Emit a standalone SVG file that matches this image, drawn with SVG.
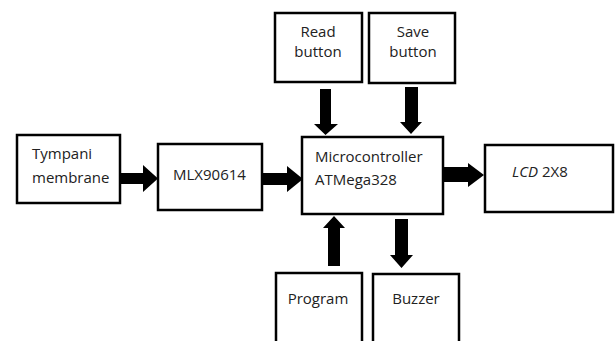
<svg xmlns="http://www.w3.org/2000/svg" width="616" height="341" viewBox="0 0 616 341">
<style>
.box{fill:#fff;stroke:#000;stroke-width:2.5}
.t{font-family:"Open Sans","Liberation Sans",sans-serif;font-size:15px;fill:#222}
.m{text-anchor:middle}
.arr{fill:#000}
</style>
<rect width="616" height="341" fill="#fff"/>
<g id="tympani"><rect class="box" x="17" y="135" width="103" height="68"/><text class="t" x="32" y="159">Tympani</text><text class="t" x="32" y="183">membrane</text></g>
<g id="mlx"><rect class="box" x="158" y="144" width="104" height="66"/><text class="t" x="173" y="180">MLX90614</text></g>
<g id="mcu"><rect class="box" x="302" y="137" width="141" height="77"/><text class="t" x="315" y="162">Microcontroller</text><text class="t" x="315" y="185">ATMega328</text></g>
<g id="lcd"><rect class="box" x="485" y="145" width="128" height="67"/><text class="t" x="512" y="177"><tspan font-style="italic">LCD</tspan> 2X8</text></g>
<g id="read"><rect class="box" x="275" y="13" width="87" height="69"/><text class="t m" x="318" y="37">Read</text><text class="t m" x="318" y="57">button</text></g>
<g id="save"><rect class="box" x="369" y="13" width="86" height="70"/><text class="t m" x="413" y="37">Save</text><text class="t m" x="413" y="57">button</text></g>
<g id="program"><path class="box" d="M276,345 V273 H362 V345"/><text class="t m" x="318" y="304">Program</text></g>
<g id="buzzer"><path class="box" d="M373,345 V274 H459 V345"/><text class="t m" x="416" y="304">Buzzer</text></g>
<g id="connectors">
<polygon class="arr" points="120,173 143,173 143,165 158,178.5 143,192 143,184 120,184"/>
<polygon class="arr" points="262,173 287,173 287,166 303,179 287,192 287,185 262,185"/>
<polygon class="arr" points="443,167 468,167 468,163 484,175 468,187 468,182 443,182"/>
<polygon class="arr" points="320,89 331,89 331,124 338,124 325.5,135 314,124 320,124"/>
<polygon class="arr" points="405,87 418,87 418,122 422,122 411,134 400,122 405,122"/>
<polygon class="arr" points="328,266 340,266 340,228 345,228 334,216 323,228 328,228"/>
<polygon class="arr" points="395,219 408,219 408,255 413,255 401.5,268 390,255 395,255"/>
</g>
</svg>
